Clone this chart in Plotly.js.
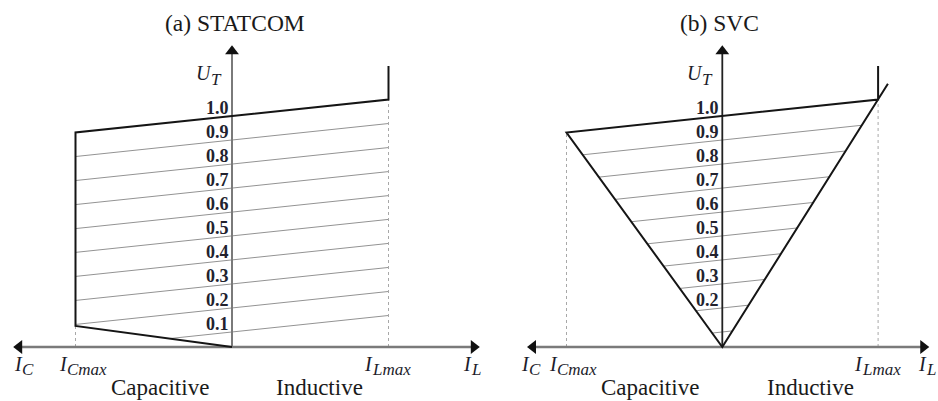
<!DOCTYPE html>
<html>
<head>
<meta charset="utf-8">
<script src="https://cdn.plot.ly/plotly-3.0.1.min.js"></script>
<style>html,body{margin:0;padding:0;background:#fff;}#chart{width:938px;height:401px;}</style>
</head>
<body>
<div id="chart"></div>
<script>
// ---------- data (normalised: I_Cmax = -1, I_Lmax = +1, U in p.u.) ----------
const I_CMAX = -1;
const I_LMAX = 1;
const levelLabels = ['0.1','0.2','0.3','0.4','0.5','0.6','0.7','0.8','0.9','1.0'];
const levelU      = [0.065, 0.169, 0.273, 0.377, 0.481, 0.584, 0.688, 0.792, 0.896, 1.0]; // U where each load line crosses I = 0
const droopSlope  = 0.0714;   // dU/dI of the characteristic lines
const statcomLowU = 0.091;    // STATCOM lower boundary at I_Cmax
const limitTopU   = 1.216;    // top of the vertical limit segment at I_Lmax
const svcOvershoot = [1.063, 1.14]; // SVC inductive line extends beyond I_Lmax
const axisTipsA = {left: -1.36, right: 1.545, top: 1.28};
const axisTipsB = {left: -1.215, right: 1.29, top: 1.28};
const svcLabelLevels = ['0.2','0.3','0.4','0.5','0.6','0.7','0.8','0.9','1.0'];

// ---------- helpers ----------
const U_at = (c, I) => c + droopSlope * I;
const topC = levelU[levelU.length - 1];
const svcLeftSlope  = -U_at(topC, I_CMAX) / I_CMAX;
const svcRightSlope =  U_at(topC, I_LMAX) / I_LMAX;

const traces = [];
function line(xs, ys, ax, color, width, dash) {
  traces.push({type:'scatter', mode:'lines', x:xs, y:ys, xaxis:ax.x, yaxis:ax.y,
    line:{color:color, width:width, dash:dash||'solid'}, hoverinfo:'skip', showlegend:false, cliponaxis:false});
}
function marker(x, y, ax, symbol) {
  traces.push({type:'scatter', mode:'markers', x:[x], y:[y], xaxis:ax.x, yaxis:ax.y,
    marker:{symbol:symbol, size:12, color:'#111'}, hoverinfo:'skip', showlegend:false, cliponaxis:false});
}
const A = {x:'x', y:'y'}, B = {x:'x2', y:'y2'};
const HATCH = '#939393', DASH = '#a8a8a8', BOLD = '#151515', AXIS = '#7a7a7a';

// ---------- panel (a) STATCOM ----------
const lowSlopeA = statcomLowU / -I_CMAX;
for (let k = 0; k < levelU.length - 1; k++) {
  const c = levelU[k];
  const xl = Math.max(I_CMAX, -c / (lowSlopeA + droopSlope));
  line([xl, I_LMAX], [U_at(c, xl), U_at(c, I_LMAX)], A, HATCH, 1);
}
line([I_LMAX, I_LMAX], [0, U_at(topC, I_LMAX)], A, DASH, 1, '3px,3px');
line([I_CMAX, I_CMAX], [0, statcomLowU], A, DASH, 1, '3px,3px');
line([axisTipsA.left, axisTipsA.right], [0, 0], A, AXIS, 2.5);
line([0, 0], [0, axisTipsA.top], A, AXIS, 2);
line([I_LMAX, I_LMAX, I_CMAX, I_CMAX, 0], [limitTopU, U_at(topC, I_LMAX), U_at(topC, I_CMAX), statcomLowU, 0], A, BOLD, 2);
marker(axisTipsA.left, 0, A, 'triangle-left');
marker(axisTipsA.right, 0, A, 'triangle-right');
marker(0, axisTipsA.top, A, 'triangle-up');

// ---------- panel (b) SVC ----------
for (let k = 0; k < levelU.length - 1; k++) {
  const c = levelU[k];
  const xl = -c / (svcLeftSlope + droopSlope);
  const xr =  c / (svcRightSlope - droopSlope);
  line([xl, xr], [U_at(c, xl), U_at(c, xr)], B, HATCH, 1);
}
line([I_LMAX, I_LMAX], [0, U_at(topC, I_LMAX)], B, DASH, 1, '3px,3px');
line([I_CMAX, I_CMAX], [0, U_at(topC, I_CMAX)], B, DASH, 1, '3px,3px');
line([axisTipsB.left, axisTipsB.right], [0, 0], B, AXIS, 2.5);
line([0, 0], [0, axisTipsB.top], B, '#222', 1.8);
line([I_LMAX, I_LMAX, I_CMAX, 0, svcOvershoot[0]], [limitTopU, U_at(topC, I_LMAX), U_at(topC, I_CMAX), 0, svcOvershoot[1]], B, BOLD, 2);
marker(axisTipsB.left, 0, B, 'triangle-left');
marker(axisTipsB.right, 0, B, 'triangle-right');
marker(0, axisTipsB.top, B, 'triangle-up');

// ---------- text ----------
const SERIF = '"Liberation Serif", "Times New Roman", serif';
const annotations = [];
function txt(text, x, y, ax, size, opts) {
  annotations.push(Object.assign({text:text, x:x, y:y, xref:ax.x, yref:ax.y, showarrow:false, borderpad:0,
    font:{family:SERIF, size:size, color:'#1a1a1a'}, xanchor:'center', yanchor:'middle'}, opts||{}));
}
const tickFont = {family:SERIF, size:18, color:'#22222e', weight:'bold'};
levelLabels.forEach((lab, k) => {
  txt(lab, 0, levelU[k], A, 18, {xanchor:'right', xshift:-2, yshift:8, font:tickFont});
});
svcLabelLevels.forEach(lab => {
  const k = levelLabels.indexOf(lab);
  txt(lab, 0, levelU[k], B, 18, {xanchor:'right', xshift:-2, yshift:8, font:tickFont});
});
// math symbols: italic base letter + italic subscript, joined at x
const MATHC = '#1c1c2a';
function sym(base, sub, x, y, ax) {
  txt('<i>' + base + '</i>', x, y, ax, 20, {xanchor:'right', xshift:1, font:{family:SERIF, size:20, color:MATHC}});
  txt('<i>' + sub + '</i>', x, y, ax, 17, {xanchor:'left', xshift:-2, yshift:-6, font:{family:SERIF, size:17, color:MATHC}});
}
const oA = 232, sA = 156.5, oB = 722.3, sB = 155.8;
// panel a
txt('(a) STATCOM', 0.02, 1.403, A, 23.5);
sym('U', 'T', (212 - oA)/sA, 1.185, A);
sym('I', 'C', (23 - oA)/sA, -0.072, A);
sym('I', 'Cmax', (68 - oA)/sA, -0.072, A);
sym('I', 'Lmax', (373 - oA)/sA, -0.072, A);
sym('I', 'L', (472 - oA)/sA, -0.072, A);
txt('Capacitive', -0.46, -0.177, A, 23);
txt('Inductive', 0.556, -0.177, A, 23);
// panel b
txt('(b) SVC', -0.015, 1.403, B, 23.5);
sym('U', 'T', (703 - oB)/sB, 1.185, B);
sym('I', 'C', (530 - oB)/sB, -0.072, B);
sym('I', 'Cmax', (558 - oB)/sB, -0.072, B);
sym('I', 'Lmax', (863 - oB)/sB, -0.072, B);
sym('I', 'L', (927 - oB)/sB, -0.072, B);
txt('Capacitive', -0.464, -0.177, B, 23);
txt('Inductive', 0.563, -0.177, B, 23);

// ---------- axes: pixel placement ----------
const W = 938, H = 401;
const originA = {px:oA, scale:sA}, originB = {px:oB, scale:sB};
const originY = {px:347, scale:231};
const domA = [0, 0.53], domB = [0.5, 1];
function xr(dom, o) { return [(dom[0]*W - o.px)/o.scale, (dom[1]*W - o.px)/o.scale]; }
const yr = [(originY.px - H)/originY.scale, originY.px/originY.scale];
const hidden = {visible:false, showgrid:false, zeroline:false, fixedrange:true};

const layout = {
  width:W, height:H, margin:{l:0, r:0, t:0, b:0},
  paper_bgcolor:'#ffffff', plot_bgcolor:'rgba(0,0,0,0)', showlegend:false,
  xaxis: Object.assign({domain:domA, range:xr(domA, originA), anchor:'y'}, hidden),
  yaxis: Object.assign({domain:[0,1], range:yr, anchor:'x'}, hidden),
  xaxis2: Object.assign({domain:domB, range:xr(domB, originB), anchor:'y2'}, hidden),
  yaxis2: Object.assign({domain:[0,1], range:yr, anchor:'x2'}, hidden),
  annotations: annotations
};
Plotly.newPlot('chart', traces, layout, {displayModeBar:false});
</script>
</body>
</html>
